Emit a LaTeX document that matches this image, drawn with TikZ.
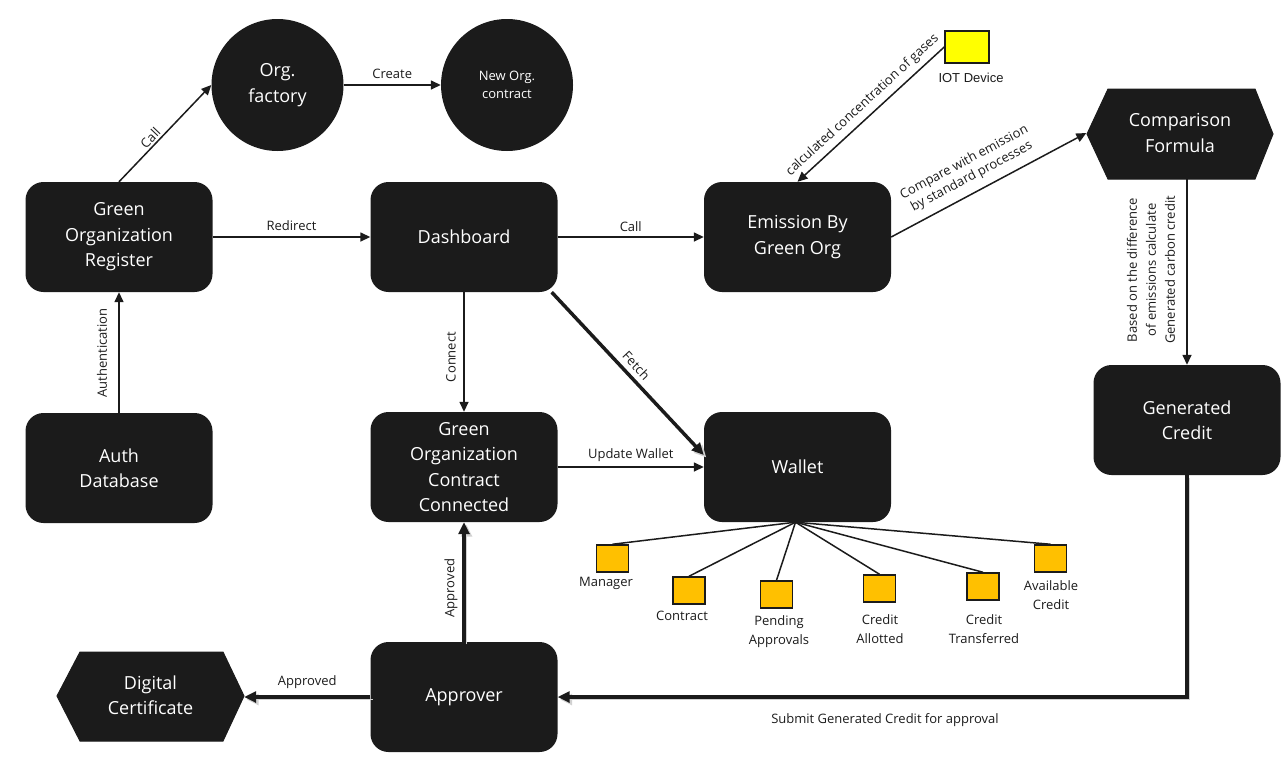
\documentclass[tikz,border=0pt]{standalone}
\usepackage{fontspec}
\setmainfont{Open Sans}
\newfontfamily\arialfont{Liberation Sans}
\usetikzlibrary{arrows.meta,calc}
\definecolor{boxc}{HTML}{1B1B1B}
\definecolor{sqc}{HTML}{FFC000}
\definecolor{iotc}{HTML}{FFFF00}
\begin{document}
\begin{tikzpicture}[x=1pt,y=-1pt,
  box/.style={fill=boxc, rounded corners=18pt, minimum width=187pt, minimum height=110pt,
    text=white, align=center, font=\fontsize{18}{25.5}\selectfont, inner sep=0pt},
  circ/.style={circle, fill=boxc, minimum size=132pt, text=white, align=center, inner sep=0pt},
  hexnode/.style={minimum width=187pt, text=white, align=center,
    font=\fontsize{18}{25.5}\selectfont, inner sep=0pt},
  hexfill/.style={fill=boxc, draw=boxc, line width=1pt},
  arr/.style={draw=boxc, line width=1.5pt, -{Triangle[length=10pt,width=9pt]}},
  thickarr/.style={draw=boxc, line width=3.5pt, -{Triangle[length=12pt,width=11pt]},
    preaction={draw=black!18, transform canvas={xshift=2.5pt,yshift=-2.5pt}}},
  lbl/.style={font=\fontsize{13}{17}\selectfont, text=boxc, inner sep=2pt, align=center},
  sq/.style={fill=sqc, draw=boxc, line width=1.5pt, minimum width=32pt, minimum height=27pt, inner sep=0pt},
  sqlbl/.style={font=\fontsize{13}{18.5}\selectfont, text=boxc, align=center, inner sep=0pt},
  link/.style={draw=boxc, line width=1.5pt}
]
\useasboundingbox (0,0) rectangle (1285,761);

% hexagon backgrounds
\fill[hexfill] (1087,134) -- (1108,89) -- (1255,89) -- (1273,134) -- (1255,179) -- (1108,179) -- cycle;
\fill[hexfill] (57,696) -- (80,652) -- (223,652) -- (244,696) -- (223,741) -- (80,741) -- cycle;

% nodes
\node[box] (reg) at (119,237) {Green\\Organization\\Register};
\node[box] (auth) at (119,468) {Auth\\Database};
\node[circ, font=\fontsize{18}{25.5}\selectfont] (fac) at (277.5,85) {Org.\\factory};
\node[circ, font=\fontsize{13}{18}\selectfont] (neworg) at (507,85) {New Org.\\contract};
\node[box] (dash) at (464,237) {Dashboard};
\node[box] (em) at (797.5,237) {Emission By\\Green Org};
\node[hexnode, minimum height=90pt] (cf) at (1180,133) {Comparison\\Formula};
\node[box] (gen) at (1187,420) {Generated\\Credit};
\node[box] (con) at (464,467) {Green\\Organization\\Contract\\Connected};
\node[box] (wal) at (797.5,467) {Wallet};
\node[box] (app) at (464,697) {Approver};
\node[hexnode, minimum height=89pt] (dc) at (150.5,695) {Digital\\Certificate};

\node[fill=iotc, draw=boxc, line width=1.5pt, minimum width=44pt, minimum height=32pt, inner sep=0pt] (iot) at (967,47) {};
\node[font=\arialfont\fontsize{13}{15}\selectfont, text=boxc, inner sep=0pt] (iotl) at (971,78) {IOT Device};

% connectors
\draw[arr] (auth.north) -- (reg.south);
\node[lbl, rotate=90] (lauth) at (102,353) {Authentication};

\draw[arr] (reg.north) -- (fac.west) node[lbl, pos=0.4, sloped, above] (lcall1) {Call};
\draw[arr] (fac.east) -- (neworg.west) node[lbl, midway, above=4pt] (lcreate) {Create};
\draw[arr] (reg.east) -- (dash.west) node[lbl, midway, above=4pt] (lredir) {Redirect};
\draw[arr] (dash.east) -- (em.west) node[lbl, midway, above=3pt] (lcall2) {Call};
\draw[arr] (iot.west) -- (em.north) node[lbl, midway, sloped, above=3pt] (lgas) {calculated concentration of gases};
\draw[arr] (em.east) -- (cf.west) node[lbl, pos=0.45, sloped, above=6pt, font=\fontsize{13}{16}\selectfont] (lcmp) {Compare with emission\\by standard processes};
\draw[arr] (cf.south -| gen.north) -- (gen.north);
\node[lbl, rotate=90, font=\fontsize{13}{19}\selectfont] (lbased) at (1151,270) {Based on the difference\\of emissions calculate\\Generated carbon credit};

\draw[arr] (dash.south) -- (con.north);
\node[lbl, rotate=90] (lconn) at (451,357) {Connect};
\draw[arr] (con.east) -- (wal.west) node[lbl, midway, above=3pt] (lupd) {Update Wallet};
\draw[thickarr] ($(dash.south east)+(-6,0)$) -- ($(wal.west)+(0,-12)$) node[lbl, midway, sloped, above=3pt] (lfetch) {Fetch};

\draw[thickarr] (app.north) -- (con.south);
\node[lbl, rotate=90] (lappr1) at (451,588) {Approved};
\draw[thickarr] (app.west) -- (app.west -| dc.east) node[lbl, midway, above=5pt] (lappr2) {Approved};

\draw[thickarr] (gen.south) |- (app.east);
\node[lbl] (lsubmit) at (885,720) {Submit Generated Credit for approval};

% wallet children
\coordinate (hub) at ($(wal.south)+(-2,0)$);
\node[sq] (m1) at (612.5,558.5) {};
\node[sq] (m2) at (689,590.5) {};
\node[sq] (m3) at (776.5,594.5) {};
\node[sq] (m4) at (879.5,588.5) {};
\node[sq] (m5) at (983,586.5) {};
\node[sq] (m6) at (1050.5,558.5) {};
\foreach \m in {m1,m2,m3,m4,m5,m6} \draw[link] (hub) -- (\m.north);
\node[sqlbl] (t1) at (606,583) {Manager};
\node[sqlbl] (t2) at (682,616) {Contract};
\node[sqlbl] (t3) at (779,631.5) {Pending\\Approvals};
\node[sqlbl] (t4) at (880,629) {Credit\\Allotted};
\node[sqlbl] (t5) at (984,629) {Credit\\Transferred};
\node[sqlbl] (t6) at (1051,595) {Available\\Credit};
\end{tikzpicture}
\end{document}
